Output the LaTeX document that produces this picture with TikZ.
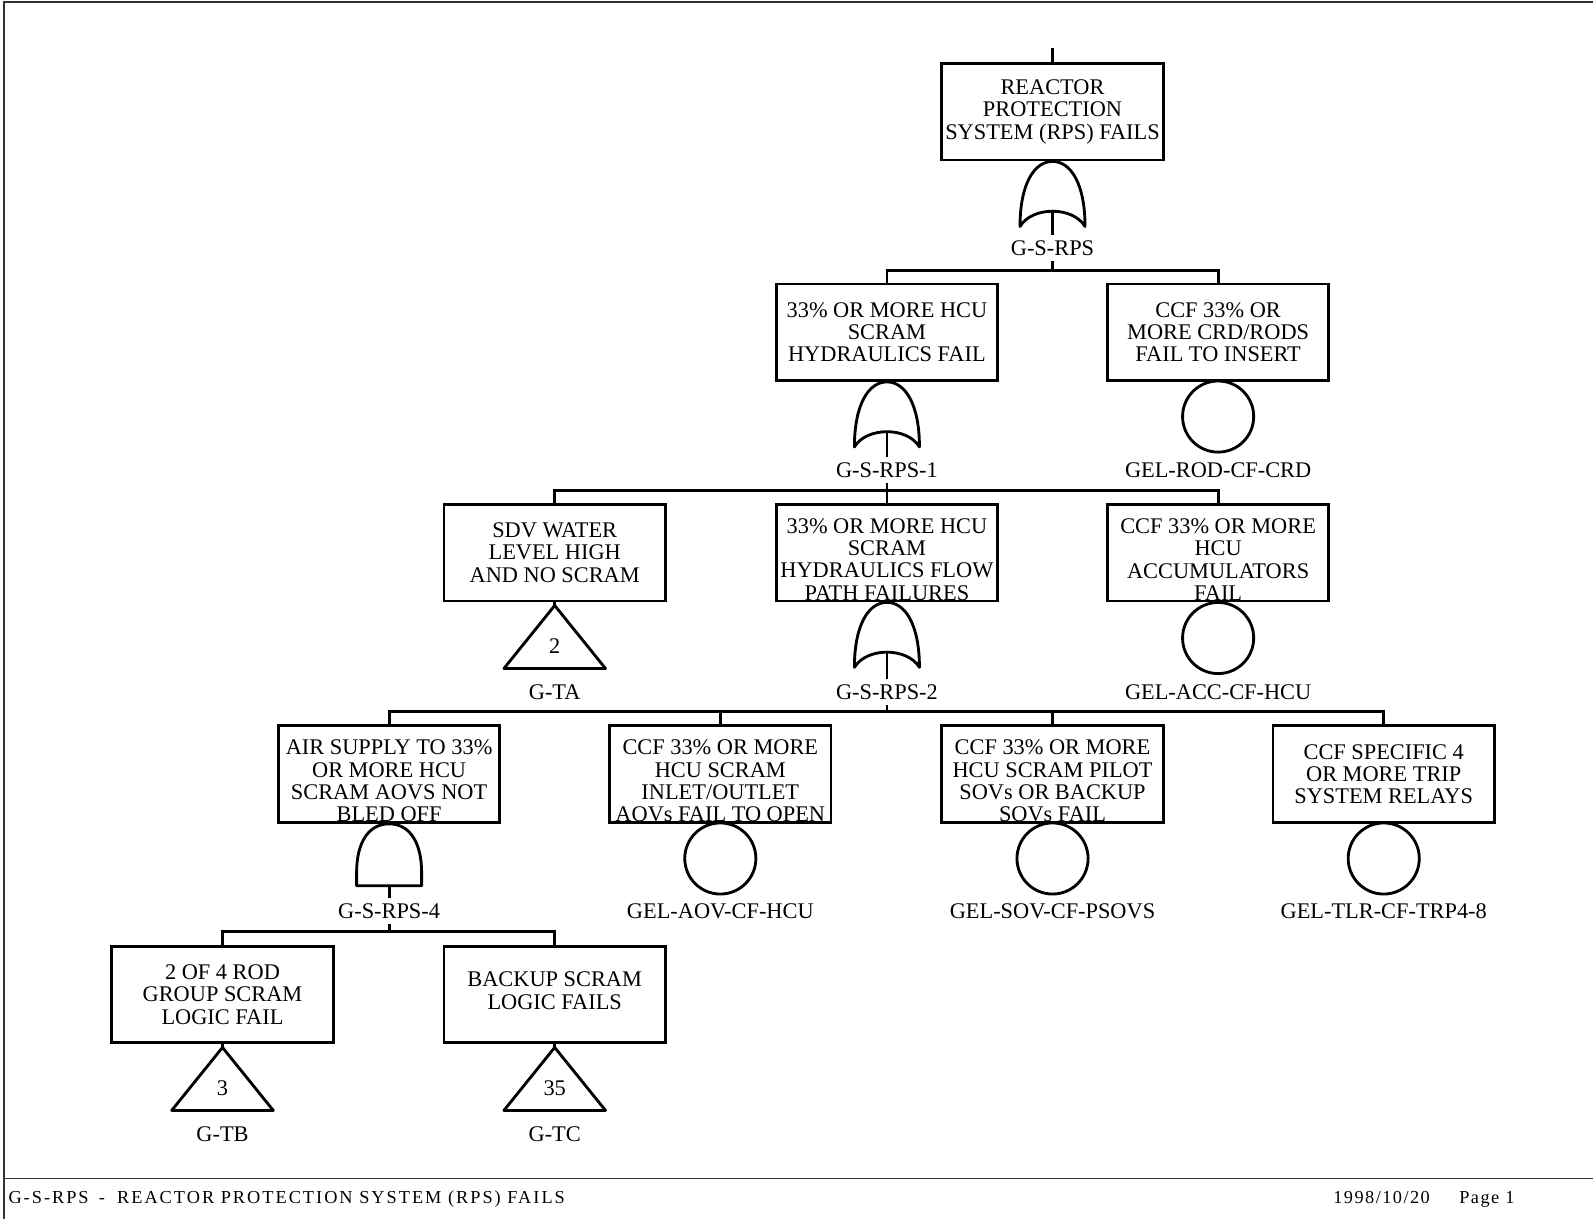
\documentclass[tikz,border=0pt]{standalone}
\usepackage{fontspec}
\setmainfont{Liberation Serif}
\usetikzlibrary{positioning}

\newcommand\lowstrut{\rule{0pt}{14pt}}
\newcommand\upstrut{\rule[-4pt]{0pt}{4pt}}

\tikzset{
  evbox/.style={draw, line width=1.4pt, minimum width=109pt, minimum height=47.5pt, inner sep=0pt, align=center, font=\fontsize{11}{11}\selectfont},
  tag/.style={inner sep=2.5pt, font=\fontsize{11}{11}\selectfont},
  basic/.style={draw, circle, line width=1.4pt, minimum size=35pt, inner sep=0pt},
  wire/.style={line width=1.4pt},
  foot/.style={anchor=base west, inner sep=0pt, font=\fontsize{9}{9}\selectfont\addfontfeatures{LetterSpace=8}},
  orgate/.pic={
    \draw [line width=1.4pt, line join=round] (-32,64) .. controls (-32,22) and (-18,0) .. (0,0) .. controls (18,0) and (32,22) .. (32,64) .. controls (20,44) and (-20,44) .. (-32,64) -- cycle;
    \coordinate (-out) at (0,48);
  },
  andgate/.pic={
    \draw [line width=1.4pt, line join=round] (-32,61) -- (-32,48) .. controls (-32,18) and (-20,0) .. (0,0) .. controls (20,0) and (32,18) .. (32,48) -- (32,61) -- cycle;
    \coordinate (-out) at (0,61);
  },
  trig/.pic={
    \draw [line width=1.4pt, line join=round] (0,0) -- (50,62) -- (-50,62) -- cycle;
    \coordinate (-apex) at (0,0);
    \coordinate (-base) at (0,62);
    \node [tag, inner sep=0pt] (-num) at (0,40) {#1};
  }
}

\begin{document}
\begin{tikzpicture}[x=0.5pt, y=-0.5pt]
    \useasboundingbox (0,0) rectangle (1568,1200);
    \draw [line width=0.9pt, black!80] (4,1200) -- (4,2) -- (1568,2);
    \draw [line width=0.9pt, black!80] (4,1160) -- (1568,1160);
    \node [foot, font=\fontsize{9}{9}\selectfont\addfontfeatures{LetterSpace=11}] (ftitle) at (8,1185) {G-S-RPS\hspace{5pt}-\hspace{6pt}REACTOR PROTECTION SYSTEM (RPS) FAILS};
    \node [foot] (fdate) at (1312,1185) {1998/10/20};
    \node [foot] (fpage) at (1436,1185) {Page 1};

    \coordinate (in) at (1036,47);
    \node [evbox] (rps) at (1036,110) {REACTOR\\PROTECTION\\SYSTEM (RPS) FAILS};
    \pic (g0) at (rps.south) {orgate};
    \node [tag] (t0) at (1036,244) {G-S-RPS};
    \coordinate (b1) at (1036,266);
    \draw [wire] (in) -- (rps.north);
    \draw [wire] (g0-out) -- (t0.north);
    \draw [wire] (t0.south) -- (b1);

    \node [evbox] (hyd) at (873,327) {33\% OR MORE HCU\\SCRAM\\HYDRAULICS FAIL};
    \node [evbox] (crd) at (1199,327) {CCF 33\% OR\\MORE CRD/RODS\\FAIL TO INSERT};
    \draw [wire] (hyd.north) |- (b1) -| (crd.north);
    \pic (g1) at (hyd.south) {orgate};
    \node [tag] (t1) at (873,463) {G-S-RPS-1};
    \node [basic] (crdev) at (1199,410) {};
    \node [tag] (crdtag) at (1199,463) {GEL-ROD-CF-CRD};
    \coordinate (b2) at (873,483);
    \draw [wire] (g1-out) -- (t1.north);
    \draw [wire] (t1.south) -- (b2);

    \node [evbox] (sdv) at (546,544) {SDV WATER\\LEVEL HIGH\\AND NO SCRAM};
    \node [evbox] (flow) at (873,544) {\lowstrut 33\% OR MORE HCU\\SCRAM\\HYDRAULICS FLOW\\PATH FAILURES};
    \node [evbox] (acc) at (1199,544) {\lowstrut CCF 33\% OR MORE\\HCU\\ACCUMULATORS\\FAIL};
    \draw [wire] (sdv.north) |- (b2) -| (acc.north);
    \draw [wire] (b2) -- (flow.north);
    \pic (ta) at (546,596) {trig=2};
    \draw [wire] (sdv.south) -- (ta-apex);
    \node [tag] (tatag) at (546,681) {G-TA};
    \pic (g2) at (flow.south) {orgate};
    \node [tag] (t2) at (873,681) {G-S-RPS-2};
    \node [basic] (accev) at (1199,628) {};
    \node [tag] (acctag) at (1199,681) {GEL-ACC-CF-HCU};
    \coordinate (b3) at (873,700);
    \draw [wire] (g2-out) -- (t2.north);
    \draw [wire] (t2.south) -- (b3);

    \node [evbox] (air) at (383,762) {\lowstrut AIR SUPPLY TO 33\%\\OR MORE HCU\\SCRAM AOVS NOT\\BLED OFF};
    \node [evbox] (aov) at (709,762) {\lowstrut CCF 33\% OR MORE\\HCU SCRAM\\INLET/OUTLET\\AOVs FAIL TO OPEN};
    \node [evbox] (sov) at (1036,762) {\lowstrut CCF 33\% OR MORE\\HCU SCRAM PILOT\\SOVs OR BACKUP\\SOVs FAIL};
    \node [evbox] (tlr) at (1362,762) {CCF SPECIFIC 4\\OR MORE TRIP\\SYSTEM RELAYS};
    \draw [wire] (air.north) |- (b3) -| (tlr.north);
    \draw [wire] (aov.north) -- (aov.north |- b3);
    \draw [wire] (sov.north) -- (sov.north |- b3);
    \pic (g4) at (air.south) {andgate};
    \node [tag] (t4) at (383,897) {G-S-RPS-4};
    \node [basic] (aovev) at (709,845) {};
    \node [tag] (aovtag) at (709,897) {GEL-AOV-CF-HCU};
    \node [basic] (sovev) at (1036,845) {};
    \node [tag] (sovtag) at (1036,897) {GEL-SOV-CF-PSOVS};
    \node [basic] (tlrev) at (1362,845) {};
    \node [tag] (tlrtag) at (1362,897) {GEL-TLR-CF-TRP4-8};
    \coordinate (b4) at (383,917);
    \draw [wire] (g4-out) -- (t4.north);
    \draw [wire] (t4.south) -- (b4);

    \node [evbox] (rod) at (219,979) {2 OF 4 ROD\\GROUP SCRAM\\LOGIC FAIL};
    \node [evbox] (bkp) at (546,979) {BACKUP SCRAM\\LOGIC FAILS\upstrut};
    \draw [wire] (rod.north) |- (b4) -| (bkp.north);
    \pic (tb) at (219,1031) {trig=3};
    \pic (tc) at (546,1031) {trig=35};
    \draw [wire] (rod.south) -- (tb-apex);
    \draw [wire] (bkp.south) -- (tc-apex);
    \node [tag] (tbtag) at (219,1116) {G-TB};
    \node [tag] (tctag) at (546,1116) {G-TC};
  \end{tikzpicture}
\end{document}
